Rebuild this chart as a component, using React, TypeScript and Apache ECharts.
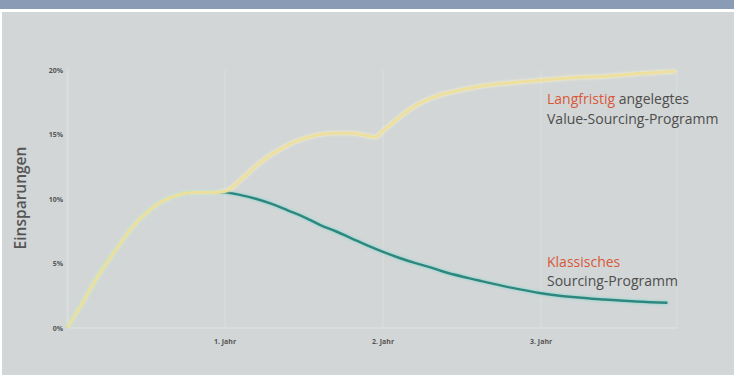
import React, { useEffect, useRef } from "react";
import * as echarts from "echarts";

const years = [0, 0.1, 0.2, 0.3, 0.4, 0.5, 0.6, 0.7, 0.8, 0.9, 1.0, 1.1, 1.2, 1.3, 1.4, 1.5, 1.6, 1.7, 1.8, 1.9, 1.95, 2.0, 2.1, 2.2, 2.3, 2.4, 2.6, 2.8, 3.0, 3.2, 3.4, 3.6, 3.85];
const longTermValues = [0, 2.0, 4.1, 5.9, 7.6, 8.9, 9.8, 10.3, 10.5, 10.5, 10.6, 11.5, 12.6, 13.5, 14.2, 14.7, 15.0, 15.1, 15.1, 14.9, 14.8, 15.3, 16.3, 17.2, 17.8, 18.2, 18.7, 19.0, 19.2, 19.4, 19.5, 19.7, 19.9];

const classicYears = [0, 0.1, 0.2, 0.3, 0.4, 0.5, 0.6, 0.7, 0.8, 0.9, 1.0, 1.1, 1.2, 1.3, 1.4, 1.5, 1.6, 1.7, 1.8, 1.9, 2.0, 2.1, 2.2, 2.3, 2.4, 2.6, 2.8, 3.0, 3.2, 3.4, 3.6, 3.8];
const classicValues = [0, 2.0, 4.1, 5.9, 7.6, 8.9, 9.8, 10.3, 10.5, 10.5, 10.5, 10.3, 10.0, 9.6, 9.1, 8.6, 8.0, 7.5, 6.95, 6.4, 5.9, 5.45, 5.05, 4.7, 4.3, 3.7, 3.15, 2.7, 2.4, 2.2, 2.05, 1.95];

const yTicks = ["0%", "5%", "10%", "15%", "20%"];
const xTickLabels = ["", "1. Jahr", "2. Jahr", "3. Jahr"];

export default function App() {
  const ref = useRef<HTMLDivElement>(null);
  useEffect(() => {
    document.body.style.margin = "0";
    const chart = echarts.init(ref.current!, null, { renderer: "svg" });
    const longData = years.map((t, i) => [t, longTermValues[i]]);
    const classicData = classicYears.map((t, i) => [t, classicValues[i]]);
    chart.setOption({
      animation: false,
      backgroundColor: "#ffffff",
      textStyle: { fontFamily: "Open Sans" },
      grid: { left: 67, right: 57, top: 70, bottom: 47 },
      xAxis: {
        type: "value",
        min: 0,
        max: 3.86,
        interval: 1,
        axisLine: { show: true, lineStyle: { color: "#dadddd", width: 2 } },
        axisTick: { show: false },
        splitLine: { show: true, lineStyle: { color: "#d8dbdb", width: 1.5 } },
        axisLabel: {
          margin: 10,
          fontSize: 7,
          fontWeight: "bold",
          color: "#555",
          formatter: (v: number) => (Number.isInteger(v) ? xTickLabels[v] ?? "" : ""),
        },
      },
      yAxis: {
        type: "value",
        min: 0,
        max: 20,
        interval: 5,
        axisLine: { show: true, lineStyle: { color: "#d9dcdc", width: 3 } },
        axisTick: { show: false },
        splitLine: { show: false },
        axisLabel: {
          margin: 4,
          fontSize: 7,
          fontWeight: "bold",
          color: "#555",
          formatter: (v: number) => yTicks[Math.round(v / 5)] ?? "",
        },
      },
      graphic: [
        { type: "rect", z: -100, silent: true, shape: { x: 0, y: 0, width: 734, height: 9 }, style: { fill: "#8a9bb5" } },
        { type: "rect", z: -100, silent: true, shape: { x: 2, y: 12, width: 732, height: 363 }, style: { fill: "#d2d6d6" } },
        {
          type: "text",
          x: 20,
          y: 198,
          z: 50,
          rotation: Math.PI / 2,
          style: {
            text: "Einsparungen",
            fontSize: 15.5,
            fontWeight: 600,
            fontFamily: "Open Sans",
            fill: "#555",
            align: "center",
            verticalAlign: "middle",
          },
        },
        {
          type: "text",
          x: 547,
          y: 88,
          z: 50,
          style: {
            text: "{r|Langfristig} {g|angelegtes}\n{g|Value-Sourcing-Programm}",
            fontFamily: "Open Sans",
            fontSize: 14,
            lineHeight: 20,
            rich: {
              r: { fill: "#d9583b", fontSize: 14, fontFamily: "Open Sans", lineHeight: 20 },
              g: { fill: "#4d4d4d", fontSize: 14, fontFamily: "Open Sans", lineHeight: 20 },
            },
          },
        },
        {
          type: "text",
          x: 547,
          y: 252,
          z: 50,
          style: {
            text: "{r|Klassisches}\n{g|Sourcing-Programm}",
            fontFamily: "Open Sans",
            fontSize: 14,
            lineHeight: 19,
            rich: {
              r: { fill: "#d9583b", fontSize: 14, fontFamily: "Open Sans", lineHeight: 19 },
              g: { fill: "#4d4d4d", fontSize: 14, fontFamily: "Open Sans", lineHeight: 19 },
            },
          },
        },
      ],
      series: [
        {
          name: "Klassisches Sourcing-Programm",
          type: "line",
          data: classicData,
          smooth: 0.4,
          showSymbol: false,
          lineStyle: {
            color: "#2e877f",
            width: 2.5,
            shadowColor: "rgba(110,215,205,0.9)",
            shadowBlur: 3,
          },
          z: 2,
        },
        {
          name: "Langfristig angelegtes Value-Sourcing-Programm",
          type: "line",
          data: longData,
          smooth: 0.4,
          showSymbol: false,
          lineStyle: {
            color: "#eddf9e",
            width: 3,
            shadowColor: "rgba(255,248,205,0.9)",
            shadowBlur: 3,
          },
          z: 3,
        },
      ],
    });
    return () => chart.dispose();
  }, []);
  return <div ref={ref} style={{ position: "fixed", left: 0, top: 0, width: 734, height: 375 }} />;
}
